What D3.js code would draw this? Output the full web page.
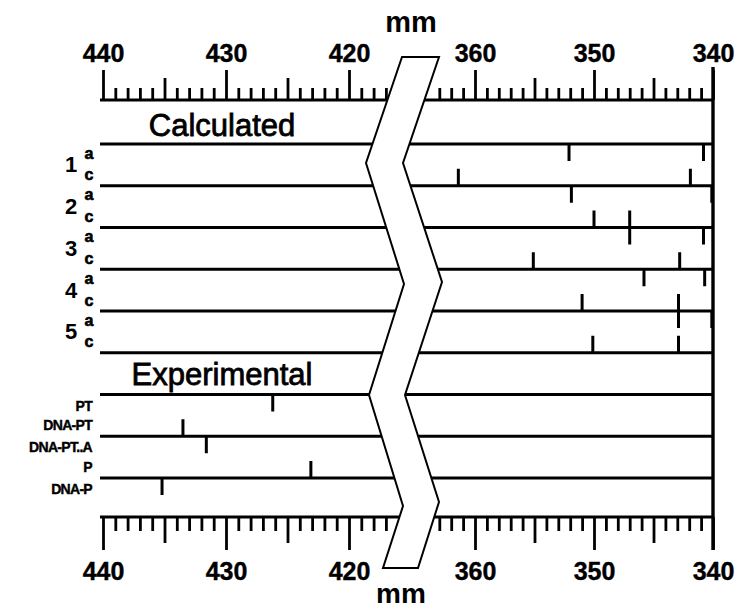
<!DOCTYPE html>
<html>
<head>
<meta charset="utf-8">
<script src="https://cdn.jsdelivr.net/npm/d3@7"></script>
<style>
  body { margin: 0; background: #fff; }
  text { font-family: "Liberation Sans", Arial, sans-serif; fill: #000; }
</style>
</head>
<body>
<svg id="chart" width="737" height="608"></svg>
<script>
// axis labels (mm), two broken segments
var leftLabels = [440, 430, 420];
var rightLabels = [360, 350, 340];

// calculated peaks, rows 1-5: "a" hangs from upper line, "c" rises to lower line
var calcRows = ["1", "2", "3", "4", "5"];
var calcA = [[352.1, 340.8], [351.9, 340.1], [347.0, 340.8], [345.8, 340.7], [342.9, 340.1]];
var calcC = [[361.4, 341.9], [350.0, 347.0], [355.1, 342.8], [351.0, 342.9], [350.1, 342.9]];

// experimental peaks
var expNames = ["PT", "DNA-PT", "DNA-PT..A", "P", "DNA-P"];
var expValues = [426.2, 433.5, 431.6, 423.1, 435.2];
var expLine = [7, 8, 8, 9, 9];     // which separator line the mark sits on
var expDir = [1, -1, 1, -1, 1];    // 1 = hangs down, -1 = rises up

var svg = d3.select("#chart");

var xL = d3.scaleLinear().domain([440, 420]).range([103, 349]);
var xR = d3.scaleLinear().domain([340, 360]).range([713, 475]);
var yLine = d3.scaleLinear().domain([1, 9]).range([144, 478]);
var topY = 100, botY = 517;
var xStart = 100, xEnd = 713;
var tickLen = 17;

function xOf(v) { return v > 400 ? xL(v) : xR(v); }

// horizontal separator lines
d3.range(1, 10).forEach(function (i) {
  svg.append("line")
    .attr("x1", xStart).attr("x2", xEnd)
    .attr("y1", yLine(i)).attr("y2", yLine(i))
    .attr("stroke", "#000").attr("stroke-width", 2.8);
});
// axis baselines
[topY, botY].forEach(function (y) {
  svg.append("line")
    .attr("x1", xStart).attr("x2", xEnd)
    .attr("y1", y).attr("y2", y)
    .attr("stroke", "#000").attr("stroke-width", 3.2);
});
// right edge
svg.append("line")
  .attr("x1", xEnd).attr("x2", xEnd)
  .attr("y1", topY - 33).attr("y2", botY + 33)
  .attr("stroke", "#000").attr("stroke-width", 3.4);

// tick sets
var minorL = d3.range(440, 416, -1).filter(function (d) { return d % 5 != 0; });
var midL = [435, 425];
var minorR = d3.range(340, 364).filter(function (d) { return d % 5 != 0; });
var midR = [345, 355];

function addAxis(scale, values, y, top, size, labels) {
  var ax = (top ? d3.axisTop(scale) : d3.axisBottom(scale))
    .tickValues(values).tickSize(size).tickSizeOuter(0);
  if (labels) { ax.tickPadding(top ? 8 : 12); } else { ax.tickFormat(""); }
  var g = svg.append("g").attr("transform", "translate(0," + y + ")").call(ax);
  g.select(".domain").remove();
  g.selectAll(".tick line").attr("stroke-width", 2.8);
  g.attr("font-size", 25).attr("font-family", "Liberation Sans, Arial, sans-serif").attr("font-weight", "bold");
  g.selectAll(".tick text").attr("stroke", "#000").attr("stroke-width", 0.4);
  return g;
}

[[xL, minorL, midL, leftLabels], [xR, minorR, midR, rightLabels]].forEach(function (s) {
  addAxis(s[0], s[1], topY, true, 12, false);
  addAxis(s[0], s[2], topY, true, 22, false);
  addAxis(s[0], s[1], botY, false, 14, false);
  addAxis(s[0], s[2], botY, false, 26, false);
});

// calculated marks
calcRows.forEach(function (r, i) {
  var yTop = yLine(i + 1), yBot = yLine(i + 2);
  svg.selectAll(null).data(calcA[i]).enter().append("line")
    .attr("x1", function (d) { return xR(d); }).attr("x2", function (d) { return xR(d); })
    .attr("y1", yTop).attr("y2", yTop + tickLen)
    .attr("stroke", "#000").attr("stroke-width", 3);
  svg.selectAll(null).data(calcC[i]).enter().append("line")
    .attr("x1", function (d) { return xR(d); }).attr("x2", function (d) { return xR(d); })
    .attr("y1", yBot - tickLen).attr("y2", yBot)
    .attr("stroke", "#000").attr("stroke-width", 3);
});

// experimental marks
svg.selectAll(null).data(expValues).enter().append("line")
  .attr("x1", function (d) { return xOf(d); }).attr("x2", function (d) { return xOf(d); })
  .attr("y1", function (d, i) { return yLine(expLine[i]); })
  .attr("y2", function (d, i) { return yLine(expLine[i]) + expDir[i] * tickLen; })
  .attr("stroke", "#000").attr("stroke-width", 3);

// axis break band
var bandLeft = [[402, 57], [366, 163], [404, 284], [369, 395], [403, 506], [383, 568]];
var bandRight = [[439, 57], [403, 163], [442, 282], [405, 395], [439, 502], [418, 568]];
svg.append("path")
  .attr("d", d3.line()(bandLeft.concat(bandRight.slice().reverse())) + "Z")
  .attr("fill", "#fff").attr("stroke", "#000").attr("stroke-width", 2)
  .attr("stroke-linejoin", "miter");

// major ticks + labels on top of band
[[xL, leftLabels], [xR, rightLabels]].forEach(function (s) {
  addAxis(s[0], s[1], topY, true, 30, true);
  addAxis(s[0], s[1], botY, false, 33, true);
});

// titles
svg.append("text").attr("x", 411).attr("y", 32).attr("text-anchor", "middle")
  .attr("font-size", 29).attr("font-weight", "bold").text("mm");
svg.append("text").attr("x", 401).attr("y", 603).attr("text-anchor", "middle")
  .attr("font-size", 28).attr("font-weight", "bold").text("mm");
svg.append("text").attr("x", 222).attr("y", 136).attr("text-anchor", "middle")
  .attr("font-size", 31).attr("stroke", "#000").attr("stroke-width", 0.8).text("Calculated");
svg.append("text").attr("x", 222).attr("y", 385).attr("text-anchor", "middle")
  .attr("font-size", 31).attr("stroke", "#000").attr("stroke-width", 0.8).text("Experimental");

// row labels
calcRows.forEach(function (r, i) {
  var yTop = yLine(i + 1), yBot = yLine(i + 2);
  svg.append("text").attr("x", 71).attr("y", (yTop + yBot) / 2)
    .attr("text-anchor", "middle").attr("dominant-baseline", "central")
    .attr("font-size", 22).attr("font-weight", "bold").text(r);
  svg.append("text").attr("x", 89).attr("y", yTop + 9)
    .attr("text-anchor", "middle").attr("dominant-baseline", "central")
    .attr("font-size", 16).attr("font-weight", "bold").attr("stroke", "#000").attr("stroke-width", 0.6).text("a");
  svg.append("text").attr("x", 89).attr("y", yBot - 11)
    .attr("text-anchor", "middle").attr("dominant-baseline", "central")
    .attr("font-size", 16).attr("font-weight", "bold").attr("stroke", "#000").attr("stroke-width", 0.6).text("c");
});

svg.selectAll(null).data(expNames).enter().append("text")
  .attr("x", 92)
  .attr("y", function (d, i) { return yLine(expLine[i]) + expDir[i] * 11; })
  .attr("text-anchor", "end").attr("dominant-baseline", "central")
  .attr("font-size", 14).attr("font-weight", "bold").attr("letter-spacing", -0.7)
  .attr("stroke", "#000").attr("stroke-width", 0.4)
  .text(function (d) { return d; });
</script>
</body>
</html>
